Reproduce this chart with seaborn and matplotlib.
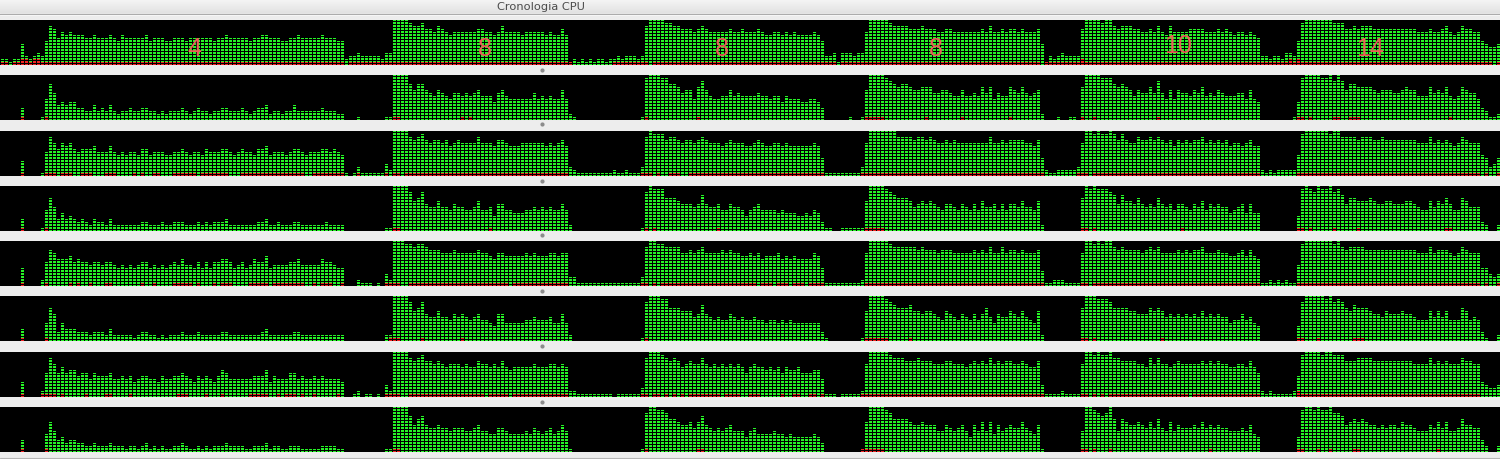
import numpy as np
import pandas as pd
import matplotlib
matplotlib.use("Agg")
import matplotlib.pyplot as plt
from matplotlib.lines import Line2D
import seaborn as sns

# ---------------- data ----------------
# Each CPU row: 375 sample columns, total load in "cells" (0..15, hex-coded),
# and the system (red) part of the load.
N_COLS = 375
MAX_CELLS = 15

ROW1_TOTAL = ("22122732343" "8dc9babaaa" "99a999a98a" "99999a8999" "8899989999" "99899a9999"
              "9899aa9998" "899a99999a" "99988" "23343333"
              "3244" "ffffeddecc" "bdcbabbbbb" "bccbbabdbb" "bbabbbbbab" "aaca"
              "1212121221223233323" "dffffeeddcccbcdcbbbbbcbbcb"
              "bbcbaabbababaaaaba8" "3341444344" "bfffffeddd" "dcccdcccbb" "ccbbbbbbbc"
              "bdbbcbccbc" "bbbc" "7132343333" "cffffeffdcd"
              "ddccbbcbdb" "adbbbbcccc" "bbbcbcbabb" "aba9" "332332443"
              "8efffffffe" "eeccdcdddc" "cccccccccc" "bbbcbbcdba" "bdccbb8766" "7")
ROW2_TOTAL = ("00000" "4" "0000" "1" "7c95656644" "3353435323" "3433443323" "2333432343"
              "3233443334" "3234452332" "3353333334" "33322" "00010000"
              "0011" "ffffcacca9" "8a98799898" "9a88869a87" "7777797878" "77a7"
              "21" "0000000000000000" "1" "efffeeccb9" "aa7bda8778" "8a8988"
              "8898878868" "777667764" "0000001001" "affffedcbc" "cbaabbb99a" "a988a8898b"
              "9b7988ba9b" "989a" "2000100110" "bffffeeecbc"
              "ba8a99b9d9" "7a7a998a9b" "898a988899" "7a76" "000000001"
              "6effffeefd" "fdaccbbbba" "9aaa99abaa" "888b9a9b87" "8ba9974311" "2")
ROW3_TOTAL = ("00000" "5" "0000" "1" "8db9bab989" "99a888a878" "7887997888" "7788987887"
              "9888998789" "88799a7888" "7899878889" "98987" "10131111"
              "1142" "ffffdcdecb" "ccbcabcbbb" "bdbbbaccba" "aabbbbbbab" "abca"
              "3211111111121121113" "dfeeecddcb" "ccbcdcbbba" "bcbbba"
              "abcbaabbab" "aaaaaaba6" "1111111113" "bfffffffdd" "ddcddcdcbb" "cbcbbbbbbb"
              "bdbbcbcccc" "bbac" "6211222223" "bffefeefece"
              "cbbdccdcdc" "bcacbcbccd" "bcbcbcabba" "bcaa" "212122222"
              "7effffffef" "fddddcdddc" "cdcccccccc" "bbbdbcbcba" "bdcbbb7634" "6")
ROW4_TOTAL = ("00000" "4" "0000" "1" "7b84645434" "3243324222" "2222332223" "2233322232"
              "3233342222" "2223342232" "2233222222" "32222" "00000000"
              "0011" "ffffdabd98" "8a88798877" "8a77859977" "6667787878" "7797"
              "2" "00000000000000000" "1" "dfeeebbba9" "9989c98897" "798875"
              "7897777676" "665565763" "1100111111" "affffedcbb" "ba89a9a987" "998798797a"
              "889797998a" "887a" "2000000000" "bfefeeedc9c"
              "aa9b9898b9" "897998798a" "7989886789" "6966" "000000000"
              "5efedfeefd" "ec9bbaaaba" "99aa999aa9" "877a8a9b97" "7ba8883200" "2")
ROW5_TOTAL = ("00000" "6" "0000" "2" "8cb999a898" "8788788767" "6767886767" "6787977686"
              "8688998678" "67988a6777" "7889777779" "88766" "00021110"
              "1042" "fffeedeedc" "ccbbbcbbbb" "bcbba9bbaa" "aaababaaab" "babb"
              "33" "1111111111111111" "3" "dffeeddddb" "bcbcdbbbbc" "bcbbaa"
              "bab9aaab9a" "9a9999ba6" "1111111112" "bfffffeddd" "dddcdcccbc" "ccbbbbbcbc"
              "bdbbdbccbc" "bbbc" "5112221111" "bffefeffdcd"
              "ccccbcdcdb" "bbbcbcbccd" "bbbcbbaabc" "aca9" "112121211"
              "7efffffffe" "fdcddddccc" "cccccccccc" "bbbdbcccba" "bdcbbb6643" "4")
ROW6_TOTAL = ("00000" "4" "00000" "6b93644433" "3233324222" "2212332212" "1222322232"
              "2222332222" "2222342222" "2233222222" "22222" "00000000"
              "0022" "ffffdabd98" "8a88798987" "8977659966" "6667787778" "6696"
              "2" "00000000000000000" "1" "dfffeebbba" "aa89c98787" "798787"
              "7877677676" "766666663" "1000000001" "affffedcbb" "bcaa9aa987" "a987987979"
              "b86988a98a" "876a" "2000000000" "bfffeeedbbb"
              "baa999baba" "898989898a" "8989886779" "7865" "000000000"
              "5dfffffefd" "edbacbbba9" "98a999a998" "777a8a8a77" "7ba7873100" "2")
ROW7_TOTAL = ("00000" "5" "0000" "2" "8db8a89978" "8687778667" "6756776657" "6677876576"
              "7657986666" "6677795766" "6886766767" "66665" "00120110"
              "1042" "ffffdcdecc" "bcbabbbaba" "acbbabaca9" "aaaaabaaab" "baba"
              "2211111111101111113" "dfffedcdca" "bcbbdbabab" "ababa8"
              "abaa9a9a8a" "99a888996" "1110111112" "bfffffeddd" "cccdcccbbb" "ccbbbabcbc"
              "bdbcbccbbc" "baac" "4111121111" "bffefeefddc"
              "cccbbadbdb" "babcbbbbbc" "bcbcbbaabb" "aca8" "212111112"
              "7effffeffe" "eecccddddc" "cccccccccb" "bbbdbcbcbb" "bdccbb5433" "4")
ROW8_TOTAL = ("00000" "4" "00000" "6a74534433" "2232223222" "1221231212" "1122321121"
              "2122232222" "1122231221" "1222111112" "22211" "00000000"
              "0011" "ffffc9bc98" "8988788877" "8977668876" "6667687678" "6797"
              "1" "00000000000000000" "1" "dffeedbba9" "9a8ac98787" "897775"
              "7866667665" "655555653" "0000000001" "affffedbbb" "ba99a99977" "987897597a"
              "7a6978988a" "8769" "1000000000" "7ffedcdfb7b"
              "a99a98a8b8" "7a7988898a" "8989887778" "7965" "000000000"
              "5effefeefd" "dc9ababa99" "898998a998" "77798a8a77" "8b99884200" "2")

# system (red) cells, run-length coded as (cells, run length)
ROW1_SYS = [(1, 2), (0, 1), (1, 2), (2, 2), (1, 1), (2, 2), (1, 76), (0, 1), (1, 56), (0, 10),
            (1, 9), (0, 1), (1, 46), (0, 1), (1, 50), (0, 1), (1, 9), (2, 1), (1, 51), (2, 1),
            (1, 1), (2, 1), (1, 48), (0, 1), (1, 1)]
ROW3_SYS = [(0, 5), (1, 1), (0, 5), (1, 3), (0, 1), (1, 3), (0, 2), (1, 3), (0, 3), (1, 3),
            (0, 4), (1, 1), (0, 1), (1, 1), (0, 2), (1, 2), (0, 3), (1, 6), (0, 1), (1, 7),
            (0, 3), (1, 16), (0, 2), (1, 8), (0, 3), (1, 1), (0, 6), (1, 1), (0, 1), (1, 2),
            (0, 1), (1, 41), (0, 18), (1, 3), (0, 1), (1, 1), (0, 2), (1, 3), (0, 2), (1, 34),
            (0, 9), (1, 46), (0, 8), (1, 3), (0, 1), (1, 42), (0, 9), (1, 46), (0, 1), (1, 1),
            (0, 2), (1, 1)]
ROW5_SYS = [(0, 5), (1, 1), (0, 5), (1, 1), (0, 5), (1, 1), (0, 1), (1, 1), (0, 2), (1, 1),
            (0, 3), (1, 2), (0, 7), (1, 1), (0, 2), (1, 1), (0, 4), (1, 5), (0, 1), (1, 1),
            (0, 3), (1, 1), (0, 1), (1, 3), (0, 4), (1, 5), (0, 1), (1, 8), (0, 2), (1, 1),
            (0, 1), (1, 3), (0, 2), (1, 1), (0, 10), (1, 4), (0, 2), (1, 25), (0, 1), (1, 14),
            (0, 18), (1, 2), (0, 1), (1, 1), (0, 1), (1, 24), (0, 1), (1, 3), (0, 1), (1, 3),
            (0, 1), (1, 3), (0, 1), (1, 4), (0, 10), (1, 45), (0, 9), (1, 2), (0, 1), (1, 42),
            (0, 9), (1, 46), (0, 1), (1, 1), (0, 2), (1, 1)]
ROW7_SYS = [(0, 5), (1, 1), (0, 4), (1, 4), (0, 1), (1, 1), (0, 5), (1, 1), (0, 4), (1, 2),
            (0, 4), (1, 1), (0, 11), (1, 3), (0, 4), (1, 1), (0, 3), (1, 1), (0, 6), (1, 5),
            (0, 2), (1, 1), (0, 1), (1, 3), (0, 1), (1, 1), (0, 2), (1, 1), (0, 5), (1, 1),
            (0, 11), (1, 4), (0, 2), (1, 19), (0, 1), (1, 5), (0, 1), (1, 14), (0, 18), (1, 2),
            (0, 1), (1, 2), (0, 1), (1, 1), (0, 1), (1, 1), (0, 1), (1, 1), (0, 1), (1, 8),
            (0, 1), (1, 4), (0, 2), (1, 3), (0, 5), (1, 1), (0, 2), (1, 2), (0, 2), (1, 2),
            (0, 1), (1, 1), (0, 9), (1, 46), (0, 9), (1, 2), (0, 1), (1, 1), (0, 1), (1, 1),
            (0, 1), (1, 20), (0, 1), (1, 17), (0, 9), (2, 1), (1, 45), (0, 5)]
# sparse system rows: columns holding one red cell
ROW2_SYS_COLS = [5, 11, 98, 99, 115, 117, 161, 174, 216, 217, 218, 219, 220, 231, 240, 252,
                 270, 273, 289, 324, 325, 327, 333, 334, 337, 338, 339, 362]
ROW4_SYS_COLS = [5, 11, 98, 99, 122, 161, 163, 179, 216, 217, 218, 219, 220, 270, 271, 273,
                 295, 324, 325, 327, 333, 339, 361, 362]
ROW6_SYS_COLS = [5, 11, 97, 98, 99, 105, 115, 161, 216, 217, 218, 219, 220, 221, 227, 270,
                 271, 273, 290, 324, 325, 329, 338, 339, 340]
ROW8_SYS_COLS = [5, 11, 98, 99, 161, 174, 175, 215, 216, 217, 218, 219, 220, 270, 271, 273,
                 277, 302, 324, 325, 329, 332, 338, 339, 359]

TITLE = "Cronologia CPU"
SEGMENT_LABELS = ["4", "8", "8", "8", "10", "14"]
LABEL_X_PX = [194, 485, 722, 936, 1178, 1370]
LABEL_Y_PX = [48.5, 48.7, 49, 49, 46, 49]


def decode_hex(s):
    vals = [int(ch, 16) for ch in s]
    assert len(vals) == N_COLS, len(vals)
    return vals


def expand_runs(runs):
    out = []
    for v, n in runs:
        out.extend([v] * n)
    assert len(out) == N_COLS, len(out)
    return out


def from_cols(cols):
    out = [0] * N_COLS
    for c in cols:
        out[c] = 1
    return out


totals = [decode_hex(s) for s in (ROW1_TOTAL, ROW2_TOTAL, ROW3_TOTAL, ROW4_TOTAL,
                                  ROW5_TOTAL, ROW6_TOTAL, ROW7_TOTAL, ROW8_TOTAL)]
systems = [expand_runs(ROW1_SYS), from_cols(ROW2_SYS_COLS), expand_runs(ROW3_SYS),
           from_cols(ROW4_SYS_COLS), expand_runs(ROW5_SYS), from_cols(ROW6_SYS_COLS),
           expand_runs(ROW7_SYS), from_cols(ROW8_SYS_COLS)]

# ---------------- style ----------------
sns.set_theme(style="white")
plt.rcParams['font.family'] = ['Liberation Sans', 'DejaVu Sans']

W, H = 1500, 459
GREEN = "#26f426"
RED = "#f42222"
GAP_BG = "#ededed"

fig = plt.figure(figsize=(W / 100, H / 100), dpi=100, facecolor=GAP_BG)

# title bar with gradient
tb = fig.add_axes([0, 1 - 13 / H, 1, 13 / H])
grad = np.linspace(0.955, 0.885, 64).reshape(-1, 1)
tb.imshow(np.repeat(grad, 2, axis=1), aspect="auto", cmap="gray", vmin=0, vmax=1,
          extent=[0, 1, 0, 1], interpolation="bilinear")
tb.set_xlim(0, 1)
tb.set_ylim(0, 1)
tb.axis("off")
tb.text(541 / W, 0.5, TITLE, ha="center", va="center", fontsize=8.2,
        color="#4b4b4b", family=["DejaVu Sans"])
fig.add_artist(Line2D([0, 1], [1 - 13.5 / H] * 2, color="#a8a8a8", lw=0.9))
fig.add_artist(Line2D([0, 1], [1 - 14.5 / H] * 2, color="#f6f6f6", lw=0.8))

BAND_TOPS = [20, 75, 131, 186, 241, 296, 352, 407]
BAND_H = 45

for i, top in enumerate(BAND_TOPS):
    ax = fig.add_axes([0, (H - top - BAND_H) / H, 1, BAND_H / H])
    ax.set_facecolor("black")
    tot = np.array(totals[i])
    sysv = np.minimum(np.array(systems[i]), tot)
    df = pd.DataFrame({"col": np.arange(N_COLS), "total": tot, "system": sysv})
    sns.barplot(data=df, x="col", y="total", color=GREEN, saturation=1, width=0.78,
                errorbar=None, linewidth=0, ax=ax)
    sns.barplot(data=df, x="col", y="system", color=RED, saturation=1, width=0.78,
                errorbar=None, linewidth=0, ax=ax)
    for p in ax.patches:
        p.set_antialiased(False)
    # black separations between cells
    ax.hlines(np.arange(MAX_CELLS) + 5 / 6, -1, N_COLS + 1, colors="black",
              linewidth=0.62, zorder=5, antialiased=False)
    ax.set_xlim(-0.625, N_COLS - 0.625)
    ax.set_ylim(0, MAX_CELLS)
    ax.set_xticks([])
    ax.set_yticks([])
    ax.set_xlabel("")
    ax.set_ylabel("")
    for sp in ax.spines.values():
        sp.set_visible(False)
    # splitter grip between rows
    if i < len(BAND_TOPS) - 1:
        gy = top + BAND_H + 4.5
        fig.add_artist(Line2D([542 / W], [1 - gy / H], marker="o", markersize=3.0,
                              color="#8c8c8c", markeredgewidth=0))

# bottom edge line
fig.add_artist(Line2D([0, 1], [1 - 457.5 / H] * 2, color="#b5b5b5", lw=0.8))

# thread-count labels over the first row
for lab, xp, yp in zip(SEGMENT_LABELS, LABEL_X_PX, LABEL_Y_PX):
    fig.text(xp / W, 1 - yp / H, lab, ha="center", va="center", fontsize=18,
             color="#ea5f57", family=["Liberation Sans", "DejaVu Sans"])

fig.savefig("out.png", dpi=100, facecolor=fig.get_facecolor())
